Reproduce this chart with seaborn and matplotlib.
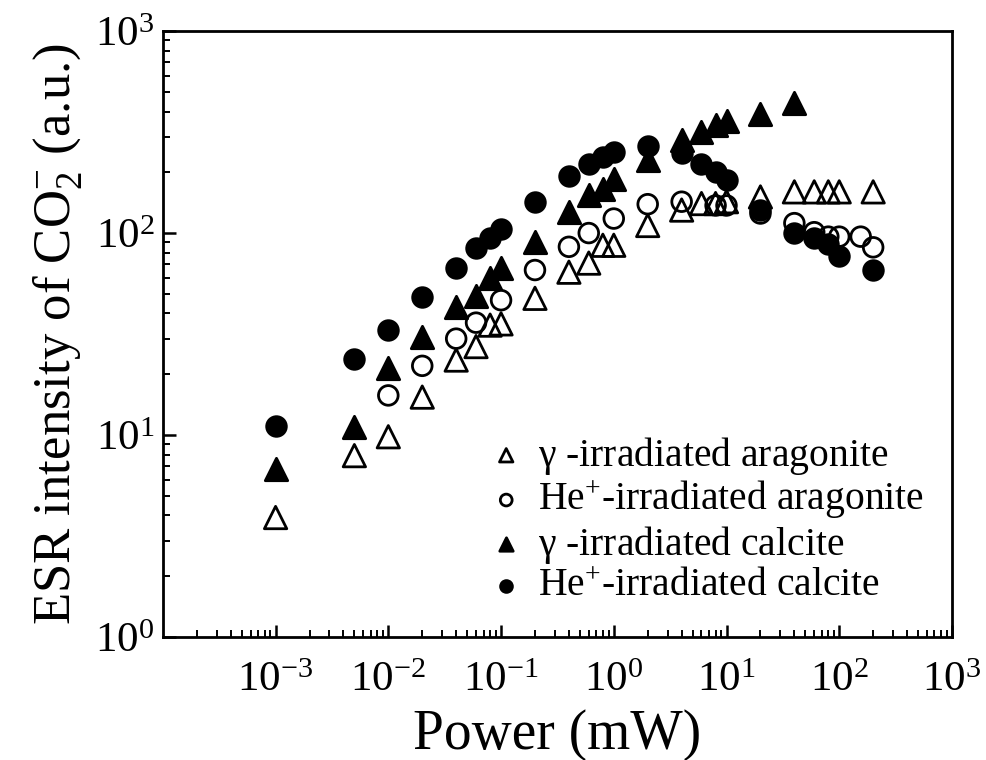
import numpy as np
import pandas as pd
import matplotlib
matplotlib.use("Agg")
import matplotlib.pyplot as plt
import seaborn as sns
from matplotlib.ticker import LogLocator, NullFormatter, FixedLocator

# ---------------- data ----------------
x_gamma_arag = [0.001, 0.005, 0.01, 0.02, 0.04, 0.06, 0.08, 0.1, 0.2, 0.4, 0.6, 0.8, 1,
                2, 4, 6, 8, 10, 20, 40, 60, 80, 100, 200]
y_gamma_arag = [3.9, 7.9, 9.8, 15.4, 23.5, 27.4, 35, 35.5, 47.5, 64, 71, 87, 87,
                109, 130, 140, 140, 143, 151, 160, 160, 160, 160, 160]

x_he_arag = [0.01, 0.02, 0.04, 0.06, 0.1, 0.2, 0.4, 0.6, 1, 2, 4, 8, 10,
             20, 40, 60, 80, 100, 155, 200]
y_he_arag = [15.7, 22, 30, 36, 46.5, 65.6, 85.5, 100, 118, 139, 143, 137, 137,
             125, 112, 101, 96, 96, 96, 85]

x_gamma_calc = [0.001, 0.005, 0.01, 0.02, 0.04, 0.06, 0.08, 0.1, 0.2, 0.4, 0.6, 0.8, 1,
                2, 4, 6, 8, 10, 20, 40]
y_gamma_calc = [6.8, 11, 21.4, 30.7, 43, 49, 60, 67, 90.6, 127, 154, 166, 185,
                230, 289, 317, 343, 358, 391, 439]

x_he_calc = [0.001, 0.005, 0.01, 0.02, 0.04, 0.06, 0.08, 0.1, 0.2, 0.4, 0.6, 0.8, 1,
             2, 4, 6, 8, 10, 20, 40, 60, 80, 100, 200]
y_he_calc = [11.1, 23.7, 33, 48, 67, 84, 94, 105, 143, 191, 221, 239, 253,
             270, 250, 220, 201, 184, 130, 100, 95, 88, 77, 65.6]

series_labels = [r"$\gamma$ -irradiated aragonite",
                 r"He$^{+}$-irradiated aragonite",
                 r"$\gamma$ -irradiated calcite",
                 r"He$^{+}$-irradiated calcite"]

x_major_ticks = [1e-3, 1e-2, 1e-1, 1e0, 1e1, 1e2, 1e3]
x_tick_labels = [r"10$^{\mathregular{-3}}$", r"10$^{\mathregular{-2}}$", r"10$^{\mathregular{-1}}$",
                 r"10$^{\mathregular{0}}$", r"10$^{\mathregular{1}}$", r"10$^{\mathregular{2}}$",
                 r"10$^{\mathregular{3}}$"]
y_major_ticks = [1e0, 1e1, 1e2, 1e3]
y_tick_labels = [r"10$^{\mathregular{0}}$", r"10$^{\mathregular{1}}$",
                 r"10$^{\mathregular{2}}$", r"10$^{\mathregular{3}}$"]

# ---------------- style ----------------
sns.set_theme(style="white")
plt.rcParams["font.family"] = ["Liberation Serif", "DejaVu Serif"]
plt.rcParams["mathtext.fontset"] = "custom"
plt.rcParams["mathtext.rm"] = "Liberation Serif"
plt.rcParams["mathtext.it"] = "Liberation Serif:italic"
plt.rcParams["mathtext.default"] = "rm"
plt.rcParams["axes.unicode_minus"] = False
plt.rcParams["text.color"] = "black"
plt.rcParams["axes.labelcolor"] = "black"
plt.rcParams["xtick.color"] = "black"
plt.rcParams["ytick.color"] = "black"

fig = plt.figure(figsize=(9.87, 7.6), dpi=100)
ax = fig.add_axes([0.165, 0.162, 0.7995, 0.797])

frames = [
    (x_gamma_arag, y_gamma_arag, "^", "none", series_labels[0], 260),
    (x_he_arag, y_he_arag, "o", "none", series_labels[1], 200),
    (x_gamma_calc, y_gamma_calc, "^", "black", series_labels[2], 260),
    (x_he_calc, y_he_calc, "o", "black", series_labels[3], 200),
]
for xs, ys, mk, fc, lab, s in frames:
    df = pd.DataFrame({"Power": xs, "Intensity": ys})
    sns.scatterplot(data=df, x="Power", y="Intensity", marker=mk, s=s,
                    facecolor=fc, edgecolor="black", linewidth=2.0,
                    label=lab, ax=ax, zorder=3)

ax.set_xscale("log")
ax.set_yscale("log")
ax.set_xlim(1e-4, 1e3)
ax.set_ylim(1e0, 1e3)

ax.xaxis.set_major_locator(FixedLocator(x_major_ticks))
ax.set_xticklabels(x_tick_labels)
ax.yaxis.set_major_locator(FixedLocator(y_major_ticks))
ax.set_yticklabels(y_tick_labels)
ax.xaxis.set_minor_locator(LogLocator(base=10, subs=np.arange(2, 10), numticks=20))
ax.yaxis.set_minor_locator(LogLocator(base=10, subs=np.arange(2, 10), numticks=20))
ax.xaxis.set_minor_formatter(NullFormatter())
ax.yaxis.set_minor_formatter(NullFormatter())

ax.tick_params(axis="both", which="major", direction="in", length=9, width=1.8,
               labelsize=31, colors="black", pad=18, bottom=True, left=True,
               top=False, right=False)
ax.tick_params(axis="both", which="minor", direction="in", length=5, width=1.4,
               bottom=True, left=True, top=False, right=False)
ax.tick_params(axis="y", which="major", pad=6)

for sp in ax.spines.values():
    sp.set_linewidth(2.0)
    sp.set_color("black")

ax.set_xlabel("Power (mW)", fontsize=40, labelpad=6)
ax.set_ylabel(r"ESR intensity of CO$_2^{\mathregular{-}}$ (a.u.)", fontsize=38, labelpad=8)

leg = ax.legend(loc="upper left", bbox_to_anchor=(0.39, 0.36), frameon=False,
                fontsize=28.5, markerscale=0.6, handletextpad=0.3,
                labelspacing=0.06, handlelength=1.0, borderaxespad=0)

fig.savefig("out.png", dpi=100)
